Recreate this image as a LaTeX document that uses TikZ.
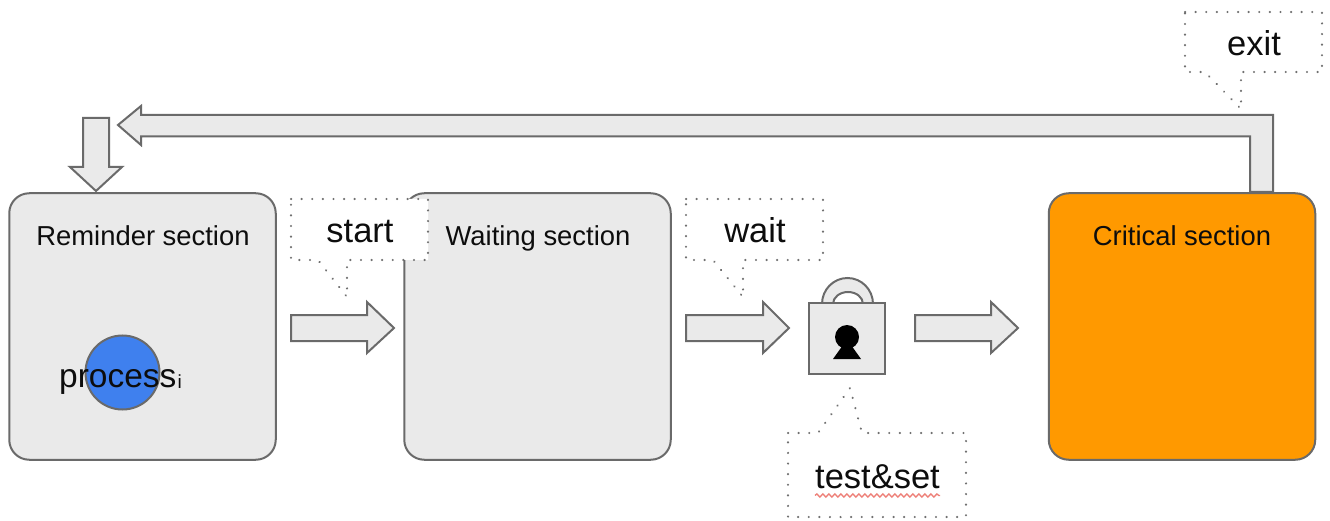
\documentclass[tikz,border=0pt]{standalone}
\usepackage{fontspec}
\setmainfont{Liberation Sans}
\usetikzlibrary{decorations.pathmorphing}
\definecolor{edge}{HTML}{6A6A6A}
\definecolor{pale}{HTML}{EAEAEA}
\definecolor{crit}{HTML}{FF9900}
\definecolor{procblue}{HTML}{3F80EE}
\definecolor{dots}{HTML}{707070}
\definecolor{squig}{HTML}{EE8078}
\tikzset{
  sectionbox/.style={draw=edge,line width=2pt,rounded corners=20pt,minimum width=266.5pt,minimum height=266.5pt,inner sep=0pt,fill=pale},
  blockarrow/.style={draw=edge,line width=2pt,fill=pale,line join=miter},
  callout/.style={draw=dots,line width=2.3pt,fill=white,line cap=round,dash pattern=on 0.1pt off 10.5pt},
  heading/.style={font=\fontsize{27.4}{30}\selectfont,anchor=base,inner sep=0pt,text=black!95},
  calltext/.style={font=\fontsize{34.5}{38}\selectfont,anchor=base,inner sep=0pt,text=black!95},
}
\begin{document}
\begin{tikzpicture}[x=1pt,y=-1pt]
\useasboundingbox (0,0) rectangle (1330,521);
% sections
\node[sectionbox] (rem) at (142.5,326.5) {};
\node[sectionbox] (wai) at (537.5,326.5) {};
\node[sectionbox,fill=crit] (cri) at (1182,326.5) {};
% process
\node[draw=edge,line width=2pt,fill=procblue,circle,minimum size=74pt,inner sep=0pt] (proc) at (122.5,372.5) {};
% block arrows
\draw[blockarrow] (291,315) -- (367,315) -- (367,302) -- (394,328) -- (367,353) -- (367,341) -- (291,341) -- cycle;
\draw[blockarrow] (686,315) -- (763,315) -- (763,302) -- (789,328) -- (763,353) -- (763,341) -- (686,341) -- cycle;
\draw[blockarrow] (915,315) -- (991,315) -- (991,302) -- (1018,328) -- (991,353) -- (991,341) -- (915,341) -- cycle;
\draw[blockarrow] (83,118) -- (109,118) -- (109,167) -- (122,167) -- (96,191) -- (70,167) -- (83,167) -- cycle;
\draw[blockarrow] (1250,192) -- (1250,136.5) -- (141,136.5) -- (141,145) -- (118,125) -- (141,106) -- (141,115) -- (1273,115) -- (1273,192) -- cycle;
% lock
\draw[blockarrow] (822,304) arc[start angle=180,end angle=360,x radius=25.5,y radius=26] -- (863,304) arc[start angle=360,end angle=180,x radius=15,y radius=12] -- cycle;
\node[draw=edge,line width=2pt,fill=pale,minimum width=76pt,minimum height=71pt,inner sep=0pt] (lock) at (847,338.5) {};
\fill[black] (847,337) circle[radius=12];
\fill[black] (843,345) -- (851,345) -- (861,359) -- (833,359) -- cycle;
% callouts
\draw[callout] (291,199) -- (428,199) -- (428,260) -- (347,260) -- (347,297) -- (318,260) -- (291,260) -- cycle;
\draw[callout] (686,199) -- (823,199) -- (823,260) -- (743,260) -- (743,297) -- (713,260) -- (686,260) -- cycle;
\draw[callout] (788,433) -- (818,433) -- (850,388) -- (862,433) -- (966,433) -- (966,517) -- (788,517) -- cycle;
\draw[callout] (1185,12) -- (1322,12) -- (1322,72) -- (1241,72) -- (1241,109) -- (1205,72) -- (1185,72) -- cycle;
% texts
\node[heading] (t1) at (143,246) {Reminder section};
\node[heading] (t2) at (538,246) {Waiting section};
\node[heading] (t3) at (1182,246) {Critical section};
\node[font=\fontsize{33.5}{36}\selectfont,anchor=base west,inner sep=0pt,text=black!95] (t4) at (59,387) {process\kern1pt{\fontsize{19}{19}\selectfont\raisebox{-1pt}{i}}};
\node[calltext] (t5) at (360,243) {start};
\node[calltext] (t6) at (755,243) {wait};
\node[calltext] (t7) at (877.5,488) {test\&set};
\node[calltext] (t8) at (1254,56) {exit};
\draw[squig,line width=1.3pt,decorate,decoration={snake,amplitude=1.6pt,segment length=6pt}] (815,495.5) -- (940,495.5);
\end{tikzpicture}
\end{document}
